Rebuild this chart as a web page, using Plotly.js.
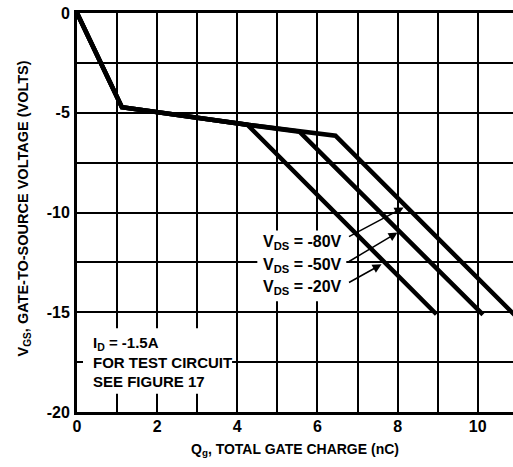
<!DOCTYPE html>
<html>
<head>
<meta charset="utf-8">
<script src="https://cdn.plot.ly/plotly-3.0.1.min.js"></script>
<style>
html,body{margin:0;padding:0;background:#fff;}
#chart{width:513px;height:467px;}
</style>
</head>
<body>
<div id="chart"></div>
<script>
// Data (Qg in nC, VGS in volts)
const qg_vds20 = [0, 1.12, 4.25, 8.97];
const vgs_vds20 = [0, -4.72, -5.6, -15.1];
const qg_vds50 = [0, 1.12, 4.25, 5.55, 10.13];
const vgs_vds50 = [0, -4.72, -5.6, -5.95, -15.12];
const qg_vds80 = [0, 1.12, 4.25, 5.55, 6.45, 10.95];
const vgs_vds80 = [0, -4.72, -5.6, -5.95, -6.15, -15.2];

const seriesLabels = ['V<sub>DS</sub> = -80V', 'V<sub>DS</sub> = -50V', 'V<sub>DS</sub> = -20V'];
const xTickVals = [0, 2, 4, 6, 8, 10];
const xTickText = ['0', '2', '4', '6', '8', '10'];
const xMinorVals = [1, 3, 5, 7, 9];
const yTickVals = [0, -5, -10, -15, -20];
const yTickText = ['0', '-5', '-10', '-15', '-20'];
const yMinorVals = [-2.5, -7.5, -12.5, -17.5];
const noteText = 'I<sub>D</sub> = -1.5A<br>FOR TEST CIRCUIT<br>SEE FIGURE 17';

const FONT = '"Liberation Sans", Arial, sans-serif';
const lineStyle = {color:'#000', width:4.5};

const traces = [
  {x:qg_vds20, y:vgs_vds20, mode:'lines', line:lineStyle, hoverinfo:'skip'},
  {x:qg_vds50, y:vgs_vds50, mode:'lines', line:lineStyle, hoverinfo:'skip'},
  {x:qg_vds80, y:vgs_vds80, mode:'lines', line:lineStyle, hoverinfo:'skip'}
];

const labelFont = {family:FONT, size:16, color:'#000', weight:'bold'};
const noteFont = {family:FONT, size:15, color:'#000', weight:'bold'};

const annotations = [
  // series labels
  {x:6.67, y:-11.5, xref:'x', yref:'y', text:'<b>'+seriesLabels[0]+'</b>', showarrow:false, xanchor:'right', yanchor:'middle', font:labelFont},
  {x:6.67, y:-12.65, xref:'x', yref:'y', text:'<b>'+seriesLabels[1]+'</b>', showarrow:false, xanchor:'right', yanchor:'middle', font:labelFont},
  {x:6.67, y:-13.75, xref:'x', yref:'y', text:'<b>'+seriesLabels[2]+'</b>', showarrow:false, xanchor:'right', yanchor:'middle', font:labelFont},
  // arrows
  {x:8.15, y:-9.75, ax:6.75, ay:-11.25, xref:'x', yref:'y', axref:'x', ayref:'y', text:'', showarrow:true, arrowhead:2, arrowsize:1.2, arrowwidth:1.5, arrowcolor:'#000'},
  {x:8.0, y:-11.0, ax:6.75, ay:-12.5, xref:'x', yref:'y', axref:'x', ayref:'y', text:'', showarrow:true, arrowhead:2, arrowsize:1.2, arrowwidth:1.5, arrowcolor:'#000'},
  {x:7.6, y:-12.6, ax:6.75, ay:-13.55, xref:'x', yref:'y', axref:'x', ayref:'y', text:'', showarrow:true, arrowhead:2, arrowsize:1.2, arrowwidth:1.5, arrowcolor:'#000'},
  // note
  {x:0.35, y:-17.5, xref:'x', yref:'y', text:'<b>'+noteText+'</b>', showarrow:false, xanchor:'left', yanchor:'middle', align:'left', font:noteFont}
];

const shapes = [
  {type:'rect', xref:'x', yref:'y', x0:0.15, x1:3.87, y0:-15.8, y1:-19.08, fillcolor:'#fff', line:{width:0}, layer:'between'},
  {type:'rect', xref:'x', yref:'y', x0:4.5, x1:6.72, y0:-10.9, y1:-14.45, fillcolor:'#fff', line:{width:0}, layer:'between'}
];

const layout = {
  width:513, height:467,
  margin:{l:77, r:0, t:13, b:55, pad:0},
  paper_bgcolor:'#fff', plot_bgcolor:'#fff',
  showlegend:false,
  font:{family:FONT, size:16, color:'#000', weight:'bold'},
  xaxis:{
    range:[0,10.88], tickvals:xTickVals, ticktext:xTickText,
    showgrid:true, gridcolor:'#000', gridwidth:2,
    minor:{tickvals:xMinorVals, showgrid:true, gridcolor:'#000', gridwidth:2, ticks:''},
    showline:true, linecolor:'#000', linewidth:3, mirror:true,
    ticks:'', zeroline:false, ticklabelstandoff:-2,
    tickfont:{family:FONT, size:16, color:'#000', weight:'bold'},
    title:{text:'<b>Q<sub>g</sub>, TOTAL GATE CHARGE (nC)</b>', font:{family:FONT, size:14, color:'#000'}, standoff:10}
  },
  yaxis:{
    range:[-20,0], tickvals:yTickVals, ticktext:yTickText,
    showgrid:true, gridcolor:'#000', gridwidth:2,
    minor:{tickvals:yMinorVals, showgrid:true, gridcolor:'#000', gridwidth:2, ticks:''},
    showline:true, linecolor:'#000', linewidth:3, mirror:false,
    ticks:'', zeroline:false, ticklabelstandoff:1,
    tickfont:{family:FONT, size:16, color:'#000', weight:'bold'},
    title:{text:'<b>&nbsp;&nbsp;V<sub>GS</sub>, GATE-TO-SOURCE VOLTAGE (VOLTS)</b>', font:{family:FONT, size:14.5, color:'#000'}, standoff:15}
  },
  annotations:annotations,
  shapes:shapes
};

Plotly.newPlot('chart', traces, layout, {staticPlot:true, displayModeBar:false});
</script>
</body>
</html>
